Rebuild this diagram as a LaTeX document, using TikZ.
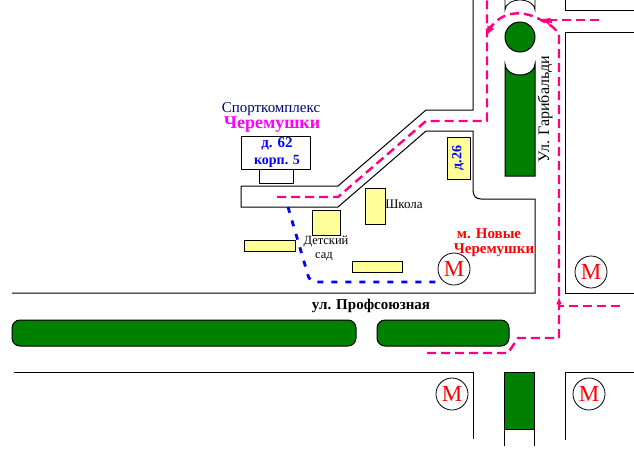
\documentclass[tikz,border=0pt]{standalone}
\usepackage{fontspec}
\setmainfont{Liberation Serif}
\definecolor{parkgreen}{RGB}{0,128,0}
\definecolor{routepink}{RGB}{255,0,128}
\definecolor{housefill}{RGB}{255,255,153}
\definecolor{titlenavy}{RGB}{0,0,128}
\definecolor{titlepink}{RGB}{255,0,255}
\definecolor{labelblue}{RGB}{0,0,255}
\definecolor{labelred}{RGB}{255,0,0}
\tikzset{
  road/.style={draw=black,line width=1pt},
  thinroad/.style={draw=black,line width=0.8pt},
  park/.style={draw=black,fill=parkgreen,line width=1pt},
  house/.style={draw=black,fill=housefill,line width=0.9pt},
  walk/.style={routepink,line width=2.4pt,dash pattern=on 9pt off 5pt},
  busway/.style={labelblue,line width=2.8pt,dash pattern=on 6pt off 8pt},
  metro/.style={circle,draw=black,line width=0.8pt,fill=white,minimum size=32pt,inner sep=0pt,text=labelred,font=\fontsize{23}{23}\selectfont},
}
\begin{document}
\begin{tikzpicture}[x=1pt,y=-1pt]
\useasboundingbox (0,0) rectangle (634,475);

% roads
\draw [road] (241,186) -- (338,186) -- (426,110) -- (473,110) -- (473,0) ;
\draw [road] (241,186) -- (241,207) -- (338,207) -- (426,131) -- (473,131) -- (473,190) .. controls (473,196) and (476,199) .. (481,199) -- (535,199) -- (535,293) -- (12,293) ;
\draw [road] (14,372) -- (473,372) -- (473,439) ;
\draw [road] (504,429) -- (504,446) ;
\draw [road] (534,429) -- (534,446) ;
\draw [road] (634,372) -- (565,372) -- (565,440) ;
\draw [road] (634,293) -- (565,293) -- (565,32) -- (634,32) ;
\draw [road] (565,0) -- (565,10) -- (634,10) ;

% green strips
\draw [park] (505,64) -- (505,176) -- (535,176) -- (535,64) arc (0:180:15 and 11) -- cycle ;
\draw [park] (520,37) circle (15) ;
\draw [thinroad] (505,0) -- (505,10) arc (180:360:15 and 10) -- (535,0) ;
\draw [park,rounded corners=8pt] (12,320) rectangle (356,346) ;
\draw [park,rounded corners=8pt] (377,320) rectangle (509,346) ;
\draw [park] (504,372) rectangle (534,429) ;

% buildings
\draw [thinroad] (241,136) rectangle (310,169) ;
\draw [thinroad] (259,169) rectangle (293,183) ;
\draw [house] (447,137) rectangle (470,179) ;
\draw [house] (365,188) rectangle (385,224) ;
\draw [house] (312,210) rectangle (340,235) ;
\draw [house] (244,240) rectangle (295,251) ;
\draw [house] (352,261) rectangle (402,272) ;

% routes
\draw [walk] (277,197) -- (338,197) -- (426,121) -- (487,121) -- (487,0) ;
\draw [walk] (599,20) -- (541,20) ;
\draw [walk] (559,338) -- (559,36) .. controls (556,27) and (548,24) .. (541,20) .. controls (520,8) and (497,12) .. (487,34) ;
\draw [routepink,line width=2.4pt,-{latex}] (492,25) -- (486,36) ;
\draw [routepink,line width=2.4pt,-{latex}] (552,22) -- (540,19) ;
\draw [routepink,line width=1.5pt,-{latex}] (559,306) -- (559,297) ;
\draw [walk] (620,306) -- (559,306) ;
\draw [walk] (427,353) -- (508,353) -- (518,338) -- (559,338) ;
\draw [busway,rounded corners=5pt] (288,207) -- (310,282) -- (437,282) ;

% labels
\node (sport) at (271,109) {\fontsize{15}{15}\selectfont\color{titlenavy}Спорткомплекс};
\node (cherem) at (272,125) {\fontsize{18}{18}\selectfont\bfseries\color{titlepink}Черемушки};
\node (dom) at (277,144) {\fontsize{15}{15}\selectfont\bfseries\color{labelblue}д. 62};
\node (korp) at (277,161) {\fontsize{14}{14}\selectfont\bfseries\color{labelblue}корп. 5};
\node [rotate=90] (dtwo) at (458,158) {\fontsize{14}{14}\selectfont\bfseries\color{labelblue}д.26};
\node (school) at (404,204) {\fontsize{13}{13}\selectfont Школа};
\node (kids) at (326,242) {\fontsize{12.5}{12.5}\selectfont Детский};
\node (garden) at (324,257) {\fontsize{12.5}{12.5}\selectfont сад};
\node (stop) at (489,234) {\fontsize{15}{15}\selectfont\bfseries\color{labelred}м. Новые};
\node (stoptwo) at (494,250) {\fontsize{15}{15}\selectfont\bfseries\color{labelred}Черемушки};
\node (prof) at (371,306) {\fontsize{15}{15}\selectfont\bfseries ул. Профсоюзная};
\node [rotate=90] (garib) at (545,109) {\fontsize{16}{16}\selectfont Ул. Гарибальди};
\node [metro] (ma) at (454,269) {М};
\node [metro] (mb) at (591,272) {М};
\node [metro] (mc) at (452,394) {М};
\node [metro] (md) at (589,394) {М};
\end{tikzpicture}
\end{document}
